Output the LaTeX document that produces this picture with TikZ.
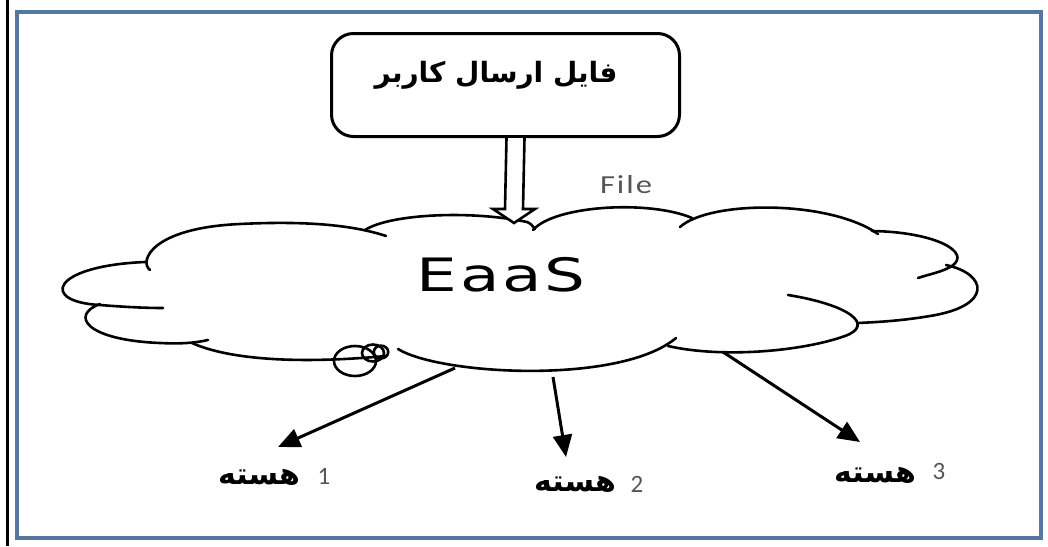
\documentclass[tikz,border=0pt]{standalone}
\usepackage{fontspec}
\usepackage{graphicx}
\usetikzlibrary{arrows.meta,calc}
\setmainfont{Carlito}
\newfontfamily\arabicfont[Script=Arabic]{DejaVu Sans}
\newfontfamily\eaasfont{DejaVu Sans}
\TeXXeTstate=1
\definecolor{framecol}{RGB}{84,120,160}
\definecolor{labgray}{RGB}{85,85,85}
\begin{document}
\begin{tikzpicture}[x=0.5pt,y=-0.5pt,
  cloudline/.style={line width=1.3pt, line cap=round},
  hollowarrow/.style={line width=1.3pt, line join=miter, fill=white},
  outarrow/.style={line width=1.5pt, -{Triangle[length=11pt,width=9.5pt]}},
  arlabel/.style={font=\arabicfont\bfseries\fontsize{15}{17}\selectfont, inner sep=0pt},
  numlabel/.style={font=\fontsize{12.5}{14}\selectfont, text=labgray, inner sep=0pt}]
\useasboundingbox (0,0) rectangle (1048,546);
\fill[white] (0,0) rectangle (1048,546);
% frame
\draw[line width=1.5pt] (7,0) -- (7,546);
\draw[framecol, line width=1.8pt] (17,12) rectangle (1041,538);
% top box
\node[draw, line width=1.5pt, rounded corners=11pt, minimum width=174pt, minimum height=51.5pt, anchor=north west, inner sep=0pt] (box) at (330,32) {};
\node[arlabel, font=\arabicfont\bfseries\fontsize{14}{16}\selectfont] (title) at (496,75) {\beginR فایل ارسال کاربر\endR};
% cloud
\draw[cloudline] (150,270) .. controls (139,262) and (150,228) .. (240,224) .. controls (300,221) and (350,224) .. (386,236);
\draw[cloudline] (365,230) .. controls (390,214) and (470,210) .. (527,222) .. controls (531,224) .. (535,229);
\draw[cloudline] (533,230) .. controls (555,205) and (650,200) .. (692,218);
\draw[cloudline] (680,227) .. controls (710,200) and (830,200) .. (878,234);
\draw[cloudline] (872,231) .. controls (935,232) and (972,252) .. (952,266) .. controls (942,272) and (930,274) .. (918,278);
\draw[cloudline] (946,265) .. controls (988,274) and (993,306) .. (930,316) .. controls (900,321) and (878,322) .. (858,323);
\draw[cloudline] (788,295) .. controls (850,305) and (875,325) .. (845,336) .. controls (800,352) and (720,358) .. (668,346);
\draw[cloudline] (398,349) .. controls (440,375) and (620,385) .. (676,338);
\draw[cloudline] (192,343) .. controls (230,360) and (300,364) .. (386,356);
\draw[cloudline] (100,304) .. controls (70,315) and (85,340) .. (160,343) .. controls (180,344) and (195,343) .. (208,340);
\draw[cloudline] (145,262) .. controls (50,266) and (40,302) .. (100,305) .. controls (125,307) and (145,308) .. (163,308);
\draw[cloudline] (355,361) ellipse [x radius=10.5pt, y radius=7.5pt];
\draw[cloudline] (373,353) ellipse [x radius=5.5pt, y radius=4.25pt];
\draw[cloudline] (381,352) ellipse [x radius=3.6pt, y radius=3.2pt];
\node[font=\eaasfont\fontsize{23}{26}\selectfont, inner sep=0pt] (eaas) at (501,275) {\scalebox{1.4}[1]{E\kern1pt a\kern1pt a\kern1pt S}};
% hollow arrow box -> cloud
\coordinate (atop) at ([xshift=5pt]box.south);
\coordinate (atip) at (514,223);
\draw[hollowarrow] ($(atop)+(-9,0)$) -- ($(atip)+(-9,-14)$) -- ($(atip)+(-21,-14)$) -- (atip) -- ($(atip)+(21,-14)$) -- ($(atip)+(9,-14)$) -- ($(atop)+(9,0)$);
\node[text=labgray, font=\fontsize{13}{15}\selectfont, inner sep=0pt] (file) at (626,185) {\scalebox{1.25}[1]{F\kern0.8pt i\kern0.8pt l\kern0.8pt e}};
% output arrows
\coordinate (c1) at (455,368); \coordinate (t1) at (278,447);
\coordinate (c2) at (553,377); \coordinate (t2) at (566,457);
\coordinate (c3) at (723,352); \coordinate (t3) at (860,442);
\draw[outarrow] (c1) -- (t1);
\draw[outarrow] (c2) -- (t2);
\draw[outarrow] (c3) -- (t3);
% labels
\node[arlabel] (w1) at (259,477) {\beginR هسته\endR};
\node[numlabel] (n1) at (324,476) {1};
\node[arlabel] (w2) at (575,484) {\beginR هسته\endR};
\node[numlabel] (n2) at (637,484) {2};
\node[arlabel] (w3) at (875,475) {\beginR هسته\endR};
\node[numlabel] (n3) at (939,471) {3};
\end{tikzpicture}
\end{document}
